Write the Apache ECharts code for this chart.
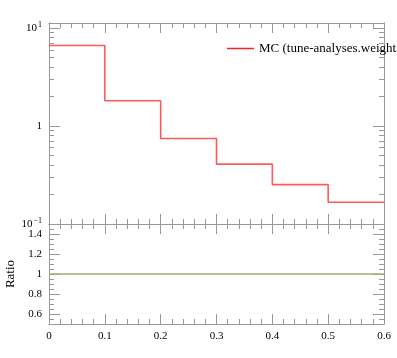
<!DOCTYPE html>
<html>
<head>
<meta charset="utf-8">
<script src="https://cdn.jsdelivr.net/npm/echarts@6/dist/echarts.min.js"></script>
<style>
  html, body { margin: 0; padding: 0; background: #fff; }
  #chart { width: 397px; height: 358px; }
</style>
</head>
<body>
<div id="chart"></div>
<script>
const binEdges = [0, 0.1, 0.2, 0.3, 0.4, 0.5, 0.6];
const mcValues = [6.63, 1.81, 0.746, 0.408, 0.252, 0.167];
const ratioValues = [1, 1, 1, 1, 1, 1];
const logMajor = [0.1, 1, 10];
const logMinor = [0.2, 0.3, 0.4, 0.5, 0.6, 0.7, 0.8, 0.9, 2, 3, 4, 5, 6, 7, 8, 9];
const ratioMajor = [0.6, 0.8, 1, 1.2, 1.4];
const ratioMinor = [0.5, 0.55, 0.65, 0.7, 0.75, 0.85, 0.9, 0.95, 1.05, 1.1, 1.15, 1.25, 1.3, 1.35, 1.45, 1.5];

const FONT = 'Liberation Serif';
const GRAY = '#999';

// histogram as step line: value holds across bin, last edge closes it
function stepData(vals) {
  const d = vals.map((v, i) => [binEdges[i], v]);
  d.push([binEdges[binEdges.length - 1], vals[vals.length - 1]]);
  return d;
}

function xAx(grid, pos, labels) {
  return {
    type: 'value', gridIndex: grid, position: pos,
    min: 0, max: 0.6, interval: 0.1,
    axisLine: { show: true, lineStyle: { color: GRAY } },
    axisTick: { show: true, inside: true, length: 10, lineStyle: { color: GRAY } },
    minorTick: { show: true, splitNumber: 5, length: 5, lineStyle: { color: GRAY } },
    axisLabel: { show: labels, fontFamily: FONT, fontSize: 11, color: '#000', margin: 7 },
    splitLine: { show: false }
  };
}

function logAx(pos, ticks, len, labels) {
  return {
    type: 'log', gridIndex: 0, position: pos, logBase: 10,
    min: 0.1, max: 11.25,
    axisLine: { show: true, lineStyle: { color: GRAY } },
    axisTick: { show: true, inside: true, length: len, customValues: ticks, lineStyle: { color: GRAY } },
    axisLabel: {
      show: labels, customValues: ticks, margin: 7,
      fontFamily: FONT, fontSize: 11, color: '#000',
      formatter: v => v >= 5 ? '10{sup|1}' : (v < 0.5 ? '10{sup|\u22121}' : '1'),
      rich: { sup: { fontFamily: FONT, fontSize: 8, verticalAlign: 'bottom', padding: [0, 0, 6, 1] } }
    },
    splitLine: { show: false }
  };
}

function ratioAx(pos, ticks, len, labels) {
  const ax = {
    type: 'value', gridIndex: 1, position: pos,
    min: 0.5, max: 1.5,
    axisLine: { show: true, lineStyle: { color: GRAY } },
    axisTick: { show: true, inside: true, length: len, customValues: ticks, lineStyle: { color: GRAY } },
    axisLabel: { show: labels, customValues: ticks, margin: 7, fontFamily: FONT, fontSize: 11, color: '#000' },
    splitLine: { show: false }
  };
  if (labels) {
    ax.name = 'Ratio';
    ax.nameLocation = 'middle';
    ax.nameGap = 32;
    ax.nameTextStyle = { fontFamily: FONT, fontSize: 13, color: '#000' };
  }
  return ax;
}

const chart = echarts.init(document.getElementById('chart'));

const option = {
  animation: false,
  backgroundColor: '#fff',
  grid: [
    { left: 49, top: 23, width: 335, height: 201, outerBoundsMode: 'none', containLabel: false },
    { left: 49, top: 224, width: 335, height: 100, outerBoundsMode: 'none', containLabel: false }
  ],
  legend: {
    left: 222, top: 37,
    itemWidth: 27, itemHeight: 1.5, itemGap: 8,
    icon: 'rect',
    textStyle: { fontFamily: FONT, fontSize: 13, color: '#000' },
    data: ['MC (tune-analyses.weights)']
  },
  xAxis: [
    xAx(0, 'bottom', false),
    xAx(0, 'top', false),
    xAx(1, 'bottom', true),
    xAx(1, 'top', false)
  ],
  yAxis: [
    logAx('left', logMajor, 11, true),
    logAx('left', logMinor, 5, false),
    logAx('right', logMajor, 11, false),
    logAx('right', logMinor, 5, false),
    ratioAx('left', ratioMajor, 11, true),
    ratioAx('left', ratioMinor, 5, false),
    ratioAx('right', ratioMajor, 11, false),
    ratioAx('right', ratioMinor, 5, false)
  ],
  series: [
    {
      name: 'MC (tune-analyses.weights)',
      type: 'line', step: 'end',
      xAxisIndex: 0, yAxisIndex: 0,
      data: stepData(mcValues),
      showSymbol: false,
      itemStyle: { color: '#ff2020' },
      lineStyle: { color: '#ff3030', width: 1.6, opacity: 0.8 },
      z: 1
    },
    {
      name: 'ratio',
      type: 'line', step: 'end',
      xAxisIndex: 2, yAxisIndex: 4,
      data: stepData(ratioValues),
      showSymbol: false,
      lineStyle: { color: '#a9a97a', width: 1.3 },
      z: 1
    }
  ]
};

chart.setOption(option);
</script>
</body>
</html>
